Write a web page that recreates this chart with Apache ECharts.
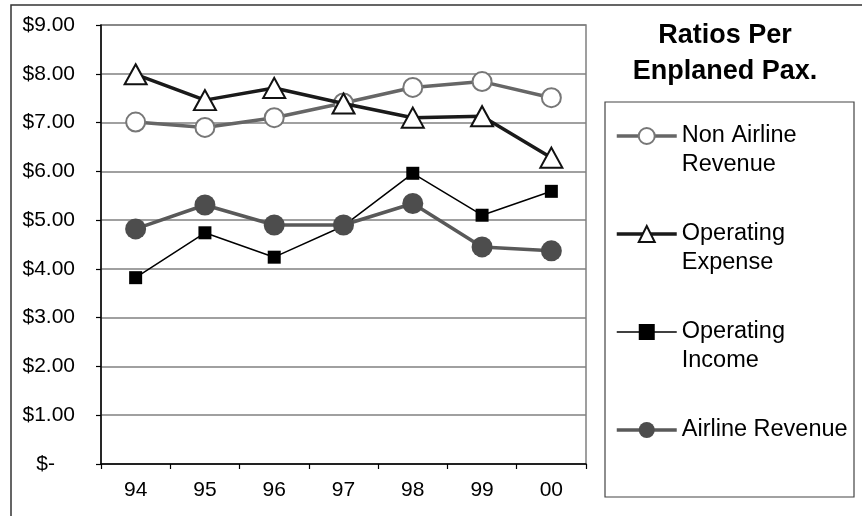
<!DOCTYPE html>
<html>
<head>
<meta charset="utf-8">
<script src="https://cdn.jsdelivr.net/npm/echarts@6/dist/echarts.min.js"></script>
<style>
html,body{margin:0;padding:0;background:#fff;}
#chart{width:862px;height:516px;}
</style>
</head>
<body>
<div id="chart"></div>
<script>
var categories = ['94', '95', '96', '97', '98', '99', '00'];
var nonAirlineRevenue = [7.01, 6.90, 7.10, 7.40, 7.72, 7.84, 7.51];
var operatingExpense = [7.99, 7.46, 7.71, 7.39, 7.10, 7.13, 6.28];
var operatingIncome = [3.82, 4.74, 4.24, 4.88, 5.96, 5.10, 5.59];
var airlineRevenue = [4.82, 5.31, 4.90, 4.90, 5.34, 4.45, 4.37];
var seriesNames = ['Non Airline Revenue', 'Operating Expense', 'Operating Income', 'Airline Revenue'];
var legendLabels = ['Non Airline\nRevenue', 'Operating\nExpense', 'Operating\nIncome', 'Airline Revenue\n'];
var yTickLabels = ['$-', '$1.00', '$2.00', '$3.00', '$4.00', '$5.00', '$6.00', '$7.00', '$8.00', '$9.00'];
var titleLines = ['Ratios Per', 'Enplaned Pax.'];

var FONT = '"Liberation Sans", Arial, sans-serif';
var lineWidths = [3.5, 3.5, 1.5, 3.5];
var lineColors = ['#666666', '#1a1a1a', '#000000', '#595959'];

var chart = echarts.init(document.getElementById('chart'), null, {renderer: 'canvas'});

var option = {
  animation: false,
  backgroundColor: '#fff',
  grid: {
    left: 101, right: 276, top: 25, bottom: 52,
    show: true, borderColor: '#808080', borderWidth: 1.5, backgroundColor: 'transparent'
  },
  graphic: [
    {type: 'rect', shape: {x: 11, y: 5, width: 900, height: 600}, style: {fill: 'none', stroke: '#333', lineWidth: 1.5}, z: 0},
    {type: 'rect', shape: {x: 605, y: 102, width: 249, height: 395}, style: {fill: 'none', stroke: '#444', lineWidth: 1.2}, z: 0},
    {type: 'text', x: 725, y: 36, style: {text: titleLines[0], font: 'bold 27px ' + FONT, fill: '#000', textAlign: 'center', textVerticalAlign: 'middle'}},
    {type: 'text', x: 725, y: 72, style: {text: titleLines[1], font: 'bold 27px ' + FONT, fill: '#000', textAlign: 'center', textVerticalAlign: 'middle'}}
  ],
  legend: {
    orient: 'vertical',
    left: 615,
    top: 92.5,
    padding: 0,
    itemWidth: 60,
    itemHeight: 20,
    itemGap: 11,
    selectedMode: false,
    data: seriesNames.map(function (n, i) {
      return {name: n, lineStyle: {width: lineWidths[i], color: lineColors[i]}};
    }),
    formatter: function (name) {
      return ' \n' + legendLabels[seriesNames.indexOf(name)];
    },
    textStyle: {fontFamily: FONT, fontSize: 23.5, color: '#000', lineHeight: 29}
  },
  xAxis: {
    type: 'category',
    data: categories,
    boundaryGap: true,
    axisLine: {lineStyle: {color: '#000', width: 1.5}},
    axisTick: {show: true, alignWithLabel: false, length: 5, lineStyle: {color: '#000', width: 1.2}},
    axisLabel: {fontFamily: FONT, fontSize: 21, color: '#000', margin: 16},
    splitLine: {show: false}
  },
  yAxis: {
    type: 'value',
    min: 0, max: 9, interval: 1,
    axisLine: {show: true, lineStyle: {color: '#000', width: 1.5}},
    axisTick: {show: true, length: 5, lineStyle: {color: '#000', width: 1.2}},
    axisLabel: {
      fontFamily: FONT, fontSize: 21, color: '#000', margin: 26,
      formatter: function (v) {
        var s = yTickLabels[Math.round(v)];
        return v === 0 ? '{z|' + s + '}' : s;
      },
      rich: {z: {fontFamily: FONT, fontSize: 21, color: '#000', padding: [0, 20, 0, 0]}}
    },
    splitLine: {show: true, lineStyle: {color: '#808080', width: 1.5}}
  },
  series: [
    {
      name: seriesNames[0], type: 'line', data: nonAirlineRevenue,
      symbol: 'circle', symbolSize: 19,
      lineStyle: {color: lineColors[0], width: lineWidths[0]},
      itemStyle: {color: '#ffffff', borderColor: '#777777', borderWidth: 2},
      z: 2
    },
    {
      name: seriesNames[1], type: 'line', data: operatingExpense,
      symbol: 'triangle', symbolSize: [22, 20],
      lineStyle: {color: lineColors[1], width: lineWidths[1]},
      itemStyle: {color: '#ffffff', borderColor: '#111111', borderWidth: 2},
      z: 3
    },
    {
      name: seriesNames[2], type: 'line', data: operatingIncome,
      symbol: 'rect', symbolSize: 13,
      lineStyle: {color: lineColors[2], width: lineWidths[2]},
      itemStyle: {color: '#000000', borderColor: '#000000', borderWidth: 0},
      z: 4
    },
    {
      name: seriesNames[3], type: 'line', data: airlineRevenue,
      symbol: 'circle', symbolSize: 21,
      lineStyle: {color: lineColors[3], width: lineWidths[3]},
      itemStyle: {color: '#4d4d4d', borderColor: '#4d4d4d', borderWidth: 0},
      z: 5
    }
  ]
};
chart.setOption(option);
</script>
</body>
</html>
